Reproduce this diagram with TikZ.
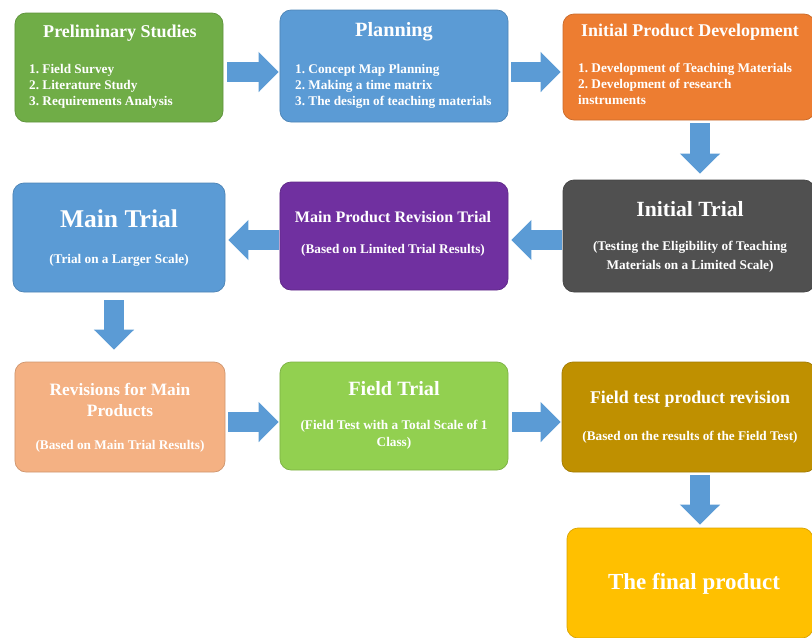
\documentclass[tikz,border=0pt]{standalone}
\usepackage{fontspec}
\setmainfont{Liberation Serif}
\usetikzlibrary{arrows.meta, positioning}
\frenchspacing

\definecolor{studyGreen}{HTML}{70AD47}
\definecolor{planBlue}{HTML}{5B9BD5}
\definecolor{devOrange}{HTML}{ED7D31}
\definecolor{revPurple}{HTML}{7030A0}
\definecolor{trialGrey}{HTML}{505050}
\definecolor{mainSalmon}{HTML}{F4B183}
\definecolor{fieldGreen}{HTML}{92D050}
\definecolor{fieldGold}{HTML}{BF9000}
\definecolor{finalYellow}{HTML}{FFC000}
\definecolor{arrowBlue}{HTML}{5B9BD5}

\begin{document}
\begin{tikzpicture}[x=0.03cm, y=-0.03cm,
	box/.style={draw=#1!85!black, fill=#1, line width=0.6pt, rounded corners=0.33cm},
	title/.style={text=white, inner sep=0pt, align=center, font=\bfseries\fontsize{#1}{18}\selectfont},
	body/.style={text=white, inner sep=0pt, font=\bfseries\fontsize{11.3}{13.6}\selectfont},
	bigarrow/.style={draw=arrowBlue, line width=0.6cm, -{Triangle[width=1.17cm, length=0.6cm]}}]
	\useasboundingbox (0,0) rectangle (812,637);

	% top row
	\node[box=studyGreen, minimum width=6.24cm, minimum height=3.27cm] (prelim) at (119,67.5) {};
	\node[box=planBlue, minimum width=6.84cm, minimum height=3.36cm] (plan) at (394,66) {};
	\node[box=devOrange, minimum width=7.56cm, minimum height=3.18cm] (initDev) at (689,67) {};
	\node[title=15.4] (prelimTitle) at (120,33) {Preliminary Studies};
	\node[body, align=left, anchor=west] (prelimList) at (29,86) {1. Field Survey\\2. Literature Study\\3. Requirements Analysis};
	\node[title=17.3] (planTitle) at (394,32) {Planning};
	\node[body, align=left, anchor=west] (planList) at (295,86) {1. Concept Map Planning\\2. Making a time matrix\\3. The design of teaching materials};
	\node[title=15.3] (initDevTitle) at (690,32) {Initial Product Development};
	\node[body, align=left, anchor=west] (initDevList) at (578,84) {1. Development of Teaching Materials\\2. Development of research\\instruments};

	% middle row
	\node[box=planBlue, minimum width=6.36cm, minimum height=3.27cm] (mainTrial) at (119,237.5) {};
	\node[box=revPurple, minimum width=6.84cm, minimum height=3.24cm] (revTrial) at (394,236) {};
	\node[box=trialGrey, minimum width=7.56cm, minimum height=3.36cm] (initTrial) at (689,236) {};
	\node[title=21.8] (mainTrialTitle) at (119,219) {Main Trial};
	\node[body] (mainTrialSub) at (119,260) {(Trial on a Larger Scale)};
	\node[title=13.7] (revTrialTitle) at (393,217) {Main Product Revision Trial};
	\node[body] (revTrialSub) at (393,250) {(Based on Limited Trial Results)};
	\node[title=18.5] (initTrialTitle) at (690,209) {Initial Trial};
	\node[body, align=center, font=\bfseries\fontsize{11.3}{16}\selectfont] (initTrialSub) at (690,257) {(Testing the Eligibility of Teaching\\Materials on a Limited Scale)};

	% bottom row
	\node[box=mainSalmon, minimum width=6.3cm, minimum height=3.3cm] (revMain) at (120,417) {};
	\node[box=fieldGreen, minimum width=6.84cm, minimum height=3.24cm] (fieldTrial) at (394,416) {};
	\node[box=fieldGold, minimum width=7.62cm, minimum height=3.3cm] (fieldRev) at (689,417) {};
	\node[title=14.8] (revMainTitle) at (120,400) {Revisions for Main\\Products};
	\node[body] (revMainSub) at (120,446) {(Based on Main Trial Results)};
	\node[title=17.3] (fieldTrialTitle) at (394,389) {Field Trial};
	\node[body, align=center, font=\bfseries\fontsize{11.3}{14.5}\selectfont] (fieldTrialSub) at (394,435) {(Field Test with a Total Scale of 1\\Class)};
	\node[title=15.3] (fieldRevTitle) at (690,399) {Field test product revision};
	\node[body] (fieldRevSub) at (690,437) {(Based on the results of the Field Test)};

	% last step
	\node[box=finalYellow, minimum width=7.38cm, minimum height=3.3cm] (final) at (690,583) {};
	\node[title=19.6] (finalTitle) at (694,584) {The final product};

	\draw[bigarrow, shorten <=0.12cm, shorten >=0.03cm] (prelim.east |- 0,72) -- (plan.west |- 0,72);
	\draw[bigarrow, shorten <=0.09cm, shorten >=0.06cm] (plan.east |- 0,72) -- (initDev.west |- 0,72);
	\draw[bigarrow, shorten <=0.09cm, shorten >=0.18cm] (initDev.south -| 700,0) -- (initTrial.north -| 700,0);
	\draw[bigarrow, shorten <=0.03cm, shorten >=0.09cm] (initTrial.west |- 0,240) -- (revTrial.east |- 0,240);
	\draw[bigarrow, shorten <=0.03cm, shorten >=0.09cm] (revTrial.west |- 0,240) -- (mainTrial.east |- 0,240);
	\draw[bigarrow, shorten <=0.24cm, shorten >=0.36cm] (mainTrial.south -| 114,0) -- (revMain.north -| 114,0);
	\draw[bigarrow, shorten <=0.09cm, shorten >=0.03cm] (revMain.east |- 0,422) -- (fieldTrial.west |- 0,422);
	\draw[bigarrow, shorten <=0.12cm, shorten >=0.03cm] (fieldTrial.east |- 0,422) -- (fieldRev.west |- 0,422);
	\draw[bigarrow, shorten <=0.09cm, shorten >=0.09cm] (fieldRev.south -| 700,0) -- (final.north -| 700,0);
\end{tikzpicture}
\end{document}
